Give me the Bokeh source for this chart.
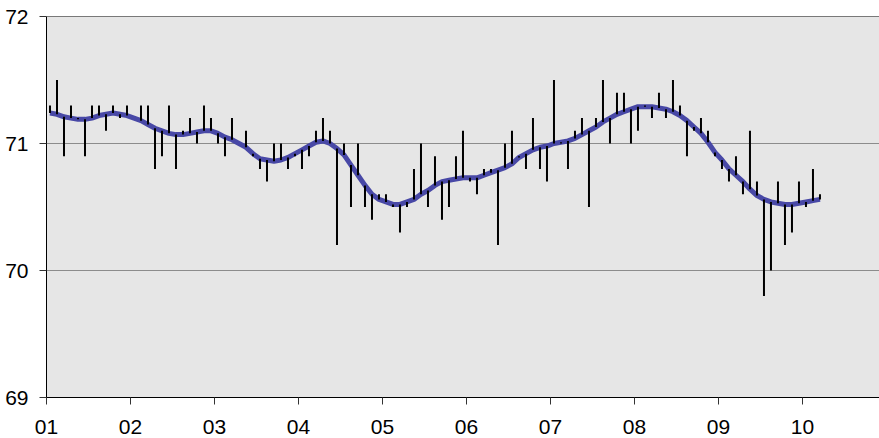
from bokeh.plotting import figure
from bokeh.models import Range1d, FixedTicker, Span, ColumnDataSource
from bokeh.embed import file_html
from bokeh.resources import INLINE

month_labels = ["01", "02", "03", "04", "05", "06", "07", "08", "09", "10"]
y_ticks = [69, 70, 71, 72]

values = [
    71.3, 71.5, 70.9, 71.3, 71.2, 70.9, 71.3, 71.3, 71.1, 71.3,
    71.2, 71.3, 71.2, 71.3, 71.3, 70.8, 70.9, 71.3, 70.8, 71.1,
    71.2, 71.0, 71.3, 71.2, 71.0, 70.9, 71.2, 71.0, 71.1, 70.9,
    70.8, 70.7, 71.0, 71.0, 70.8, 70.9, 70.8, 70.9, 71.1, 71.2,
    71.1, 70.2, 71.0, 70.5, 71.0, 70.5, 70.4, 70.6, 70.6, 70.5,
    70.3, 70.5, 70.8, 71.0, 70.5, 70.9, 70.4, 70.5, 70.9, 71.1,
    70.7, 70.6, 70.8, 70.8, 70.2, 71.0, 71.1, 70.9, 70.8, 71.2,
    70.8, 70.7, 71.5, 71.0, 70.8, 71.1, 71.2, 70.5, 71.2, 71.5,
    71.0, 71.4, 71.4, 71.0, 71.1, 71.3, 71.2, 71.4, 71.2, 71.5,
    71.3, 70.9, 71.1, 71.2, 71.1, 70.9, 70.8, 70.7, 70.9, 70.6,
    71.1, 70.7, 69.8, 70.0, 70.7, 70.2, 70.3, 70.7, 70.5, 70.8,
    70.6,
]

trend = [
    71.24, 71.23, 71.21, 71.20, 71.19, 71.19, 71.20, 71.22, 71.23, 71.24,
    71.23, 71.22, 71.20, 71.18, 71.15, 71.12, 71.10, 71.08, 71.07, 71.07,
    71.08, 71.09, 71.10, 71.10, 71.08, 71.05, 71.03, 71.00, 70.97, 70.92,
    70.88, 70.87, 70.86, 70.87, 70.89, 70.92, 70.95, 70.98, 71.01, 71.02,
    71.00, 70.96, 70.91, 70.83, 70.75, 70.67, 70.60, 70.56, 70.54, 70.52,
    70.52, 70.54, 70.56, 70.60, 70.63, 70.67, 70.70, 70.71, 70.72, 70.73,
    70.73, 70.73, 70.75, 70.77, 70.79, 70.81, 70.84, 70.89, 70.92, 70.95,
    70.97, 70.98, 71.00, 71.01, 71.02, 71.04, 71.07, 71.10, 71.13, 71.17,
    71.20, 71.23, 71.25, 71.27, 71.29, 71.29, 71.29, 71.28, 71.27, 71.25,
    71.22, 71.18, 71.13, 71.08, 71.01, 70.93, 70.87, 70.80, 70.75, 70.70,
    70.64, 70.59, 70.56, 70.54, 70.53, 70.52, 70.52, 70.53, 70.54, 70.55,
    70.56,
]

# 12 observations per month, centred in each slot
x = [(i + 0.5) / 12 for i in range(len(values))]
src = ColumnDataSource(dict(x=x, v=values, t=trend))

p = figure(width=879, height=438, output_backend="svg", toolbar_location=None,
           x_range=Range1d(0, 9.917), y_range=Range1d(69, 72),
           min_border_left=46, min_border_right=0, min_border_top=16,
           min_border_bottom=41)
p.background_fill_color = "#E6E6E6"
p.border_fill_color = "white"
p.outline_line_color = None

p.xgrid.visible = False
p.ygrid.ticker = FixedTicker(ticks=[70, 71])
p.ygrid.grid_line_color = "#8C8C8C"
p.ygrid.grid_line_width = 1
p.add_layout(Span(location=72, dimension="width", line_color="black", line_width=1))

p.line("x", "t", source=src, line_color="#4848A6", line_width=5)
p.segment(x0="x", y0="t", x1="x", y1="v", source=src, line_color="black", line_width=2)

p.xaxis.ticker = FixedTicker(ticks=list(range(len(month_labels))))
p.xaxis.major_label_overrides = {i: lab for i, lab in enumerate(month_labels)}
p.yaxis.ticker = FixedTicker(ticks=y_ticks)

for ax in (p.xaxis[0], p.yaxis[0]):
    ax.axis_line_color = "black"
    ax.axis_line_width = 1
    ax.major_tick_line_color = "#333333"
    ax.major_tick_in = 0
    ax.major_tick_out = 7
    ax.minor_tick_line_color = None
    ax.major_label_text_font = "Liberation Sans"
    ax.major_label_text_font_size = "21px"
    ax.major_label_text_color = "black"
p.xaxis.major_label_standoff = 15
p.yaxis.major_label_standoff = 11

open("out.html", "w").write(file_html(p, INLINE))
